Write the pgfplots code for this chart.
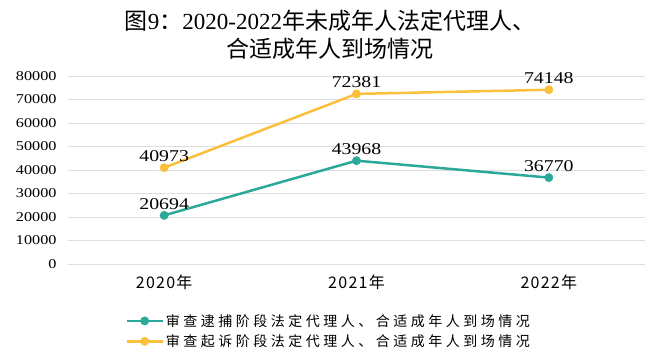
\documentclass[border=0pt]{standalone}
\usepackage{fontspec}
\setmainfont{Liberation Serif}
\newfontfamily\numfont{Liberation Serif}[FakeStretch=1.2]
\newfontfamily\cjk{Noto Sans CJK SC}
\newfontfamily\cjklg{Noto Sans CJK SC}[LetterSpace=25]
\newfontfamily\cjkx{Noto Sans CJK SC}[LetterSpace=8]
\usepackage{pgfplots}
\pgfplotsset{compat=1.18}
\definecolor{tealc}{RGB}{43,168,154}
\definecolor{orangec}{RGB}{250,192,60}
\definecolor{gridc}{RGB}{222,222,222}
\begin{document}
\begin{tikzpicture}
\path[use as bounding box] (0,0) rectangle (648pt,355pt);
\node[align=center, font=\fontsize{23}{28}\selectfont] at (330pt,320pt)
  {{\cjk 图}9{\cjk ：}2020-2022{\cjk 年未成年人法定代理人、}\\{\cjk 合适成年人到场情况}};
\begin{axis}[
  at={(68pt,91pt)}, anchor=south west,
  scale only axis, width=577pt, height=188pt,
  xmin=-0.5, xmax=2.5, ymin=0, ymax=80000,
  axis line style={draw=none},
  major tick length=0pt,
  scaled y ticks=false,
  ytick={0,10000,20000,30000,40000,50000,60000,70000,80000},
  yticklabels={0,10000,20000,30000,40000,50000,60000,70000,80000},
  yticklabel style={font=\numfont\fontsize{13.5}{14}\selectfont, xshift=-8pt},
  xtick={0,1,2},
  xticklabels={2020年,2021年,2022年},
  xticklabel style={font=\cjkx\fontsize{16}{18}\selectfont, yshift=-7pt},
  ymajorgrids, grid style={gridc, line width=0.8pt},
  point meta=explicit symbolic,
  nodes near coords,
  nodes near coords style={font=\numfont\fontsize{16.5}{18}\selectfont, black, anchor=south, yshift=2.5pt},
  legend style={at={(0.094,-0.245)}, anchor=north west, draw=none, fill=none,
    font=\cjklg\fontsize{14}{16}\selectfont, row sep=3pt,
    legend cell align=left},
  legend image code/.code={\draw[mark repeat=2,mark phase=2,#1] plot coordinates {(0pt,0pt)(18pt,0pt)(36pt,0pt)};},
]
\addplot[color=tealc, line width=2.5pt, mark=*, mark size=4.2pt, mark options={solid, fill=tealc, draw=tealc, line width=0.4pt}]
  coordinates {(0,20694)[20694] (1,43968)[43968] (2,36770)[36770]};
\addlegendentry{审查逮捕阶段法定代理人、合适成年人到场情况}
\addplot[color=orangec, line width=2.5pt, mark=*, mark size=4.2pt, mark options={solid, fill=orangec, draw=orangec, line width=0.4pt}]
  coordinates {(0,40973)[40973] (1,72381)[72381] (2,74148)[74148]};
\addlegendentry{审查起诉阶段法定代理人、合适成年人到场情况}
\end{axis}
\end{tikzpicture}
\end{document}
